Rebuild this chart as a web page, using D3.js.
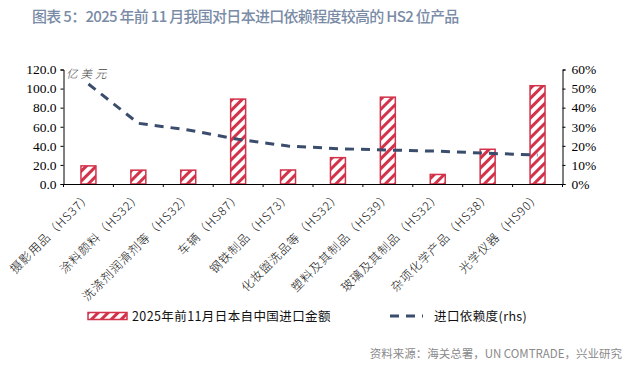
<!DOCTYPE html>
<html>
<head>
<meta charset="utf-8">
<script src="https://cdn.jsdelivr.net/npm/d3@7"></script>
<style>
  body { margin: 0; background: #fff; }
  svg { display: block; }
</style>
</head>
<body>
<div id="chart"></div>
<script>
// data
var categories = ["摄影用品（HS37）", "涂料颜料（HS32）", "洗涤剂润滑剂等（HS32）", "车辆（HS87）", "钢铁制品（HS73）",
  "化妆盥洗品等（HS32）", "塑料及其制品（HS39）", "玻璃及其制品（HS32）", "杂项化学产品（HS38）", "光学仪器（HS90）"];
var importValues = [19.0, 14.5, 14.5, 89.0, 14.7, 27.6, 91.0, 10.0, 36.4, 103.0]; // 亿美元
var dependence = [52.4, 31.8, 28.3, 23.4, 19.9, 18.5, 17.8, 17.2, 16.1, 15.2];   // %
var leftTicks = [0, 20, 40, 60, 80, 100, 120];
var rightTicks = [0, 10, 20, 30, 40, 50, 60];

var barName = "2025年前11月日本自中国进口金额";
var lineName = "进口依赖度(rhs)";

var W = 640, H = 365;
var plot = { left: 63.5, right: 562.5, top: 69.5, bottom: 184 };
var barColor = "#d3324b";
var lineColor = "#3b4d6c";
var cjk = "'Noto Sans CJK SC', sans-serif";
var serif = "'Liberation Serif', 'DejaVu Serif', serif";

var svg = d3.select("#chart").append("svg")
  .attr("width", W)
  .attr("height", H);

// hatch pattern for the bars
var defs = svg.append("defs");
var pat = defs.append("pattern")
  .attr("id", "hatch")
  .attr("patternUnits", "userSpaceOnUse")
  .attr("width", 7)
  .attr("height", 7)
  .attr("patternTransform", "rotate(45)");
pat.append("rect").attr("width", 7).attr("height", 7).attr("fill", "#fff");
pat.append("line")
  .attr("x1", 3.5).attr("y1", 0).attr("x2", 3.5).attr("y2", 7)
  .attr("stroke", barColor)
  .attr("stroke-width", 3);

// title
svg.append("text")
  .attr("x", 32)
  .attr("y", 22)
  .attr("font-family", cjk)
  .attr("font-size", 15)
  .attr("font-weight", 500)
  .attr("letter-spacing", -0.7)
  .attr("fill", "#7a8ba6")
  .text("图表 5：2025 年前 11 月我国对日本进口依赖程度较高的 HS2 位产品");

var x = d3.scaleBand()
  .domain(categories)
  .range([plot.left, plot.right])
  .paddingInner(0.7)
  .paddingOuter(0.35);

var yL = d3.scaleLinear().domain([0, 120]).range([plot.bottom, plot.top]);
var yR = d3.scaleLinear().domain([0, 60]).range([plot.bottom, plot.top]);

// bars
svg.selectAll(".bar")
  .data(importValues)
  .enter()
  .append("rect")
  .attr("class", "bar")
  .attr("x", function (d, i) { return x(categories[i]); })
  .attr("y", function (d) { return yL(d); })
  .attr("width", x.bandwidth())
  .attr("height", function (d) { return yL(0) - yL(d); })
  .attr("fill", "url(#hatch)")
  .attr("stroke", barColor)
  .attr("stroke-width", 1.5);

// dependence line
var line = d3.line()
  .x(function (d, i) { return x(categories[i]) + x.bandwidth() / 2; })
  .y(function (d) { return yR(d); });

svg.append("path")
  .datum(dependence)
  .attr("d", line)
  .attr("fill", "none")
  .attr("stroke", lineColor)
  .attr("stroke-width", 3)
  .attr("stroke-dasharray", "9,7");

// left axis
var leftAxis = svg.append("g")
  .attr("transform", "translate(" + plot.left + ",0)")
  .call(d3.axisLeft(yL).tickValues(leftTicks).tickSize(3).tickPadding(4)
    .tickFormat(function (d) { return d3.format(".1f")(d); }));

// right axis
var rightAxis = svg.append("g")
  .attr("transform", "translate(" + plot.right + ",0)")
  .call(d3.axisRight(yR).tickValues(rightTicks).tickSize(3).tickPadding(6)
    .tickFormat(function (d) { return d + "%"; }));

// x axis
var bottomAxis = svg.append("g")
  .attr("transform", "translate(0," + plot.bottom + ")")
  .call(d3.axisBottom(x).tickSize(0).tickFormat(""));

// band boundary ticks like the original
svg.selectAll(".xtick")
  .data(d3.range(categories.length + 1))
  .enter()
  .append("line")
  .attr("x1", function (i) { return plot.left + i * x.step(); })
  .attr("x2", function (i) { return plot.left + i * x.step(); })
  .attr("y1", plot.bottom)
  .attr("y2", plot.bottom + 3)
  .attr("stroke", "#000");

[leftAxis, rightAxis].forEach(function (g) {
  g.select(".domain").attr("stroke", "#000");
  g.selectAll(".tick line").attr("stroke", "#000");
  g.selectAll(".tick text")
    .attr("font-family", serif)
    .attr("font-size", 13.5)
    .attr("fill", "#000");
});
bottomAxis.select(".domain").attr("stroke", "#000").attr("stroke-width", 1.2);

// rotated category labels
svg.selectAll(".cat")
  .data(categories)
  .enter()
  .append("text")
  .attr("class", "cat")
  .attr("transform", function (d) {
    return "translate(" + (x(d) + x.bandwidth() / 2 + 4) + "," + (plot.bottom + 13) + ") rotate(-45)";
  })
  .attr("text-anchor", "end")
  .attr("font-family", cjk)
  .attr("font-size", 12)
  .attr("font-weight", 300)
  .attr("letter-spacing", 0.9)
  .attr("fill", "#111")
  .text(function (d) { return d; });

// unit label
svg.append("text")
  .attr("x", 66)
  .attr("y", 78)
  .attr("font-family", cjk)
  .attr("font-size", 11.5)
  .attr("font-weight", 300)
  .attr("font-style", "italic")
  .attr("letter-spacing", 3)
  .attr("fill", "#444")
  .text("亿美元");

// legend
svg.append("rect")
  .attr("x", 88)
  .attr("y", 312.5)
  .attr("width", 39)
  .attr("height", 7)
  .attr("fill", "url(#hatch)")
  .attr("stroke", barColor)
  .attr("stroke-width", 1.5);

svg.append("text")
  .attr("x", 132)
  .attr("y", 321)
  .attr("font-family", cjk)
  .attr("font-size", 12.5)
  .attr("letter-spacing", 0.4)
  .attr("fill", "#111")
  .text(barName);

svg.append("line")
  .attr("x1", 390).attr("x2", 423)
  .attr("y1", 316).attr("y2", 316)
  .attr("stroke", lineColor)
  .attr("stroke-width", 3)
  .attr("stroke-dasharray", "9,7");

svg.append("text")
  .attr("x", 434)
  .attr("y", 321)
  .attr("font-family", cjk)
  .attr("font-size", 12.5)
  .attr("letter-spacing", 0.4)
  .attr("fill", "#111")
  .text(lineName);

// source
svg.append("text")
  .attr("x", 622)
  .attr("y", 358)
  .attr("text-anchor", "end")
  .attr("font-family", cjk)
  .attr("font-size", 11.5)
  .attr("fill", "#8a8a8a")
  .text("资料来源：海关总署，UN COMTRADE，兴业研究");
</script>
</body>
</html>
